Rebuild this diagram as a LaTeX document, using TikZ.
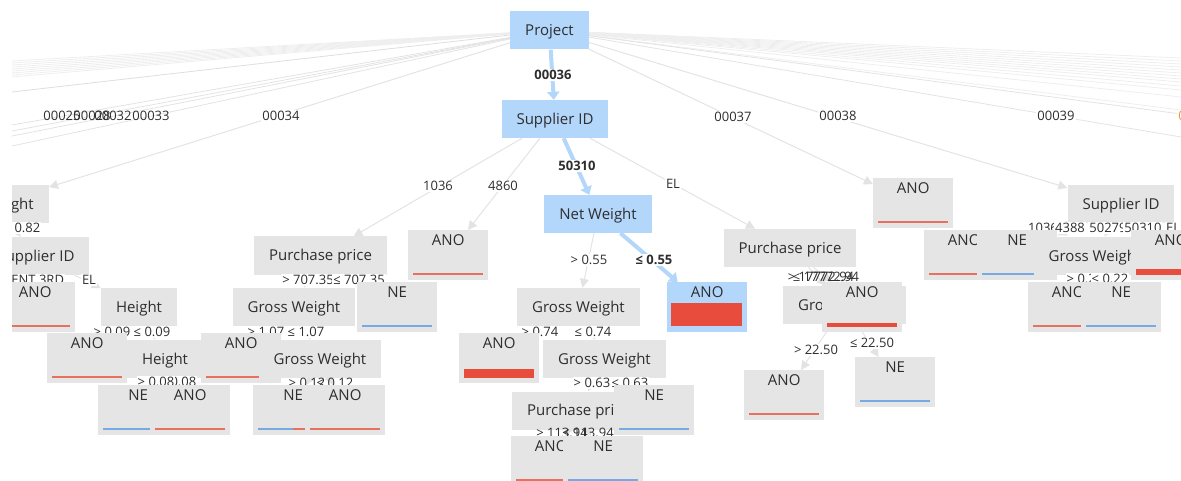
\documentclass[tikz,border=0pt]{standalone}
\usepackage{fontspec}
\setmainfont{Open Sans}
\usetikzlibrary{arrows.meta,calc}

\definecolor{boxgrey}{HTML}{E5E5E5}
\definecolor{hlblue}{HTML}{B3D6FB}
\definecolor{ink}{HTML}{2E2E2E}
\definecolor{barred}{HTML}{E74C3C}
\definecolor{thinred}{HTML}{E8705F}
\definecolor{thinblue}{HTML}{78A9E3}
\definecolor{edgegrey}{HTML}{E3E3E3}
\definecolor{fangrey}{HTML}{EEEEEE}
\definecolor{fandark}{HTML}{DEDEDE}
\definecolor{orangelbl}{HTML}{E39A3B}

\newcommand\tnodefont{\fontsize{15}{18}\selectfont}
\newcommand\tlabelfont{\fontsize{13}{15}\selectfont}

% bar along the bottom of a leaf box: node, colour, thickness
\newcommand\leafbar[3]{\fill[#2] ($(#1.south west)+(5,-5)$) rectangle ($(#1.south east)+(-5,-5-#3)$);}

\pgfdeclarelayer{links}
\pgfsetlayers{links,main}

\tikzset{
  inner/.style={rectangle, fill=boxgrey, inner xsep=15pt, inner ysep=0pt,
    text height=24.35pt, text depth=13.65pt, text=ink, font=\tnodefont},
  hl/.style={fill=hlblue},
  leaf/.style={rectangle, fill=boxgrey, anchor=north west, minimum width=80pt,
    inner sep=0pt, text height=15.4pt, text depth=34.6pt, text=ink, font=\tnodefont},
  toplbl/.style={font=\tlabelfont, text=ink, inner sep=1pt},
  lbl/.style={toplbl, fill=white},
  edge/.style={draw=edgegrey, line width=1pt, -{Triangle[length=9pt,width=9pt]}},
  hledge/.style={draw=hlblue, line width=4pt, -{Triangle[length=8pt,width=12pt]}},
  fan/.style={draw=fangrey, line width=0.8pt, shorten >=-30pt},
}

\begin{document}
\begin{tikzpicture}[x=1pt,y=-1pt]
\useasboundingbox (0,0) rectangle (1181,481);

\begin{scope}
\clip (12,0) rectangle (1181,481);

% ---- depth 0
\node[inner,hl] (prj) at (549.5,30.5) {Project};

% ---- edge labels, root level
\node[toplbl] at (62,116) {00025};
\node[toplbl] at (92,116) {00028};
\node[toplbl] at (113,116) {00032};
\node[toplbl] at (151,116) {00033};
\node[lbl] at (281,116) {00034};
\node[lbl, font=\tlabelfont\bfseries] at (553,75) {00036};
\node[lbl] at (733,117) {00037};
\node[lbl] at (838,116) {00038};
\node[lbl] at (1056,116) {00039};
\node[lbl, text=orangelbl] at (1197,116) {00040};

% ---- depth 1
\node[inner] (ght) at (-5,204) {Net Weight};
\node[inner,hl] (sup1) at (555,119) {Supplier ID};
\node[leaf] (L1) at (873,178) {ANO}; \leafbar{L1}{thinred}{2}
\node[inner] (sup3) at (1121,204) {Supplier ID};

% ---- edge labels, level 1
\node[lbl] at (22,228) {≤ 0.82};
\node[lbl] at (438,186) {1036};
\node[lbl] at (503,186) {4860};
\node[lbl, font=\tlabelfont\bfseries] at (577,166) {50310};
\node[lbl] at (673,184) {EL};
\node[lbl] at (1043,228) {1036};
\node[lbl] at (1070,228) {4388};
\node[lbl] at (1108,228) {50279};
\node[lbl] at (1143,228) {50310};
\node[lbl] at (1173,228) {EL};

% ---- depth 2
\node[inner] (sup2) at (36,256) {Supplier ID};
\node[inner] (pp1) at (320.5,255.5) {Purchase price};
\node[leaf] (L2) at (408,230) {ANO}; \leafbar{L2}{thinred}{2}
\node[inner,hl] (net) at (598,214) {Net Weight};
\node[inner] (pp3) at (790,248) {Purchase price};
\node[leaf] (L19) at (924,230) {ANO}; \leafbar{L19}{thinred}{2}
\node[leaf] (L20) at (977,230) {NE}; \leafbar{L20}{thinblue}{2}
\node[inner] (gw6) at (1095,256) {Gross Weight};
\node[leaf] (L21) at (1131,230) {ANO}; \leafbar{L21}{barred}{6}

% ---- edge labels, level 2
\node[lbl] at (29,280) {AGENT 3RD};
\node[lbl] at (89,280) {EL};
\node[lbl] at (308,280) {> 707.35};
\node[lbl] at (359,280) {≤ 707.35};
\node[lbl] at (589,260) {> 0.55};
\node[lbl, font=\tlabelfont\bfseries] at (654,260) {≤ 0.55};
\node[toplbl] at (821,277) {> 17772.94};
\node[toplbl] at (826,277) {≤ 17772.94};
\node[lbl] at (1085,279) {> 0.22};
\node[lbl] at (1110,279) {≤ 0.22};

% ---- depth 3
\node[leaf] (L5) at (-5,282) {ANO}; \leafbar{L5}{thinred}{2}
\node[inner] (h1) at (139,307) {Height};
\node[inner] (gw1) at (294,307) {Gross Weight};
\node[leaf] (L4) at (357,282) {NE}; \leafbar{L4}{thinblue}{2}
\node[inner] (gw3) at (578.5,307) {Gross Weight};
\node[leaf, fill=hlblue] (L3) at (667,282) {ANO};
\fill[barred] ($(L3.south west)+(4,-6)$) rectangle ($(L3.south east)+(-5,-29)$);
\node[inner] (gw5) at (844.5,305) {Gross Weight};
\node[leaf] (L6) at (822,282) {ANO}; \leafbar{L6}{barred}{4}
\node[leaf] (L22) at (1028,282) {ANO}; \leafbar{L22}{thinred}{2}
\node[leaf] (L23) at (1081,282) {NE}; \leafbar{L23}{thinblue}{2}

% ---- edge labels, level 3
\node[lbl] at (112,332) {> 0.09};
\node[lbl] at (152,332) {≤ 0.09};
\node[lbl] at (266,332) {> 1.07};
\node[lbl] at (306,332) {≤ 1.07};
\node[lbl] at (540,332) {> 0.74};
\node[lbl] at (593,332) {≤ 0.74};
\node[lbl] at (816,350) {> 22.50};
\node[lbl] at (872,343) {≤ 22.50};

% ---- depth 4
\node[leaf] (L7) at (47,333) {ANO}; \leafbar{L7}{thinred}{2}
\node[inner] (h2) at (165,359) {Height};
\node[leaf] (L8) at (201,333) {ANO}; \leafbar{L8}{thinred}{2}
\node[inner] (gw2) at (320,359) {Gross Weight};
\node[leaf] (L9) at (459,333) {ANO}; \leafbar{L9}{barred}{9}
\node[inner] (gw4) at (604.5,359) {Gross Weight};
\node[leaf] (L17) at (744,370) {ANO}; \leafbar{L17}{thinred}{2}
\node[leaf] (L18) at (855,357) {NE}; \leafbar{L18}{thinblue}{2}

% ---- edge labels, level 4
\node[lbl] at (178,382) {≤ 0.08};
\node[lbl] at (156,382) {> 0.08};
\node[toplbl] at (307,383) {> 0.12};
\node[toplbl] at (335,383) {≤ 0.12};
\node[lbl] at (592,383) {> 0.63};
\node[lbl] at (630,383) {≤ 0.63};

% ---- depth 5
\node[leaf] (L10) at (98,385) {NE}; \leafbar{L10}{thinblue}{2}
\node[leaf] (L11) at (150,385) {ANO}; \leafbar{L11}{thinred}{2}
\node[leaf] (L12) at (253,385) {NE};
\fill[thinblue] ($(L12.south west)+(5,-5)$) rectangle ($(L12.south west)+(40,-7)$);
\fill[thinred] ($(L12.south west)+(40,-5)$) rectangle ($(L12.south east)+(-5,-7)$);
\node[leaf] (L13) at (305,385) {ANO}; \leafbar{L13}{thinred}{2}
\node[inner] (pp2) at (578.5,410.5) {Purchase price};
\node[leaf] (L14) at (614,385) {NE}; \leafbar{L14}{thinblue}{2}

% ---- edge labels, level 5
\node[toplbl] at (562,433) {> 113.94};
\node[toplbl] at (588,433) {≤ 113.94};

% ---- depth 6
\node[leaf] (L15) at (511,436) {ANO}; \leafbar{L15}{thinred}{2}
\node[leaf] (L16) at (563,436) {NE}; \leafbar{L16}{thinblue}{2}
\end{scope}

% ---- connectors, underneath all boxes
\begin{pgfonlayer}{links}
\begin{scope}
\clip (12,0) rectangle (1181,481);
% root links to children beyond the frame
\foreach \yy in {61,63,65,67,69,71,73,75,77} {
  \coordinate (fl\yy) at (12,\yy);
  \draw[fan] (prj) -- (fl\yy);
}
\coordinate (fl92) at (12,92);
\draw[fan, draw=fandark] (prj) -- (fl92);
\foreach \yy in {125,131,136,146} {
  \coordinate (fm\yy) at (12,\yy);
  \draw[fan, draw=edgegrey] (prj) -- (fm\yy);
}
\foreach \yy in {58,61,64,67,70,73,76,79,82,86,90,97,110} {
  \coordinate (fr\yy) at (1181,\yy);
  \draw[fan] (prj) -- (fr\yy);
}
\coordinate (fr137) at (1181,137);
\coordinate (fr114) at (1181,114);
\draw[fan, draw=edgegrey] (prj) -- (fr137);
\draw[fan, draw=edgegrey] (prj) -- (fr114);

% visible tree links
\draw[edge] (prj) -- (ght);
\draw[edge] (prj) -- (L1);
\draw[edge] (prj) -- (sup3);
\draw[edge] (sup1) -- (pp1);
\draw[edge] (sup1) -- (L2);
\draw[edge] (sup1) -- (pp3);
\draw[edge] (net) -- (gw3);
\draw[edge] (ght) -- (sup2);
\draw[edge] (sup2) -- (L5);
\draw[edge] (sup2) -- (h1);
\draw[edge] (h1) -- (L7);
\draw[edge] (h1) -- (h2);
\draw[edge] (h2) -- (L10);
\draw[edge] (h2) -- (L11);
\draw[edge] (pp1) -- (gw1);
\draw[edge] (pp1) -- (L4);
\draw[edge] (gw1) -- (L8);
\draw[edge] (gw1) -- (gw2);
\draw[edge] (gw2) -- (L12);
\draw[edge] (gw2) -- (L13);
\draw[edge] (gw3) -- (L9);
\draw[edge] (gw3) -- (gw4);
\draw[edge] (gw4) -- (pp2);
\draw[edge] (gw4) -- (L14);
\draw[edge] (pp2) -- (L15);
\draw[edge] (pp2) -- (L16);
\draw[edge] (pp3) -- (gw5);
\draw[edge] (pp3) -- (L6);
\draw[edge] (gw5) -- (L17);
\draw[edge] (gw5) -- (L18);
\draw[edge] (sup3) -- (L19);
\draw[edge] (sup3) -- (L20);
\draw[edge] (sup3) -- (gw6);
\draw[edge] (sup3) -- (L21);
\draw[edge] (gw6) -- (L22);
\draw[edge] (gw6) -- (L23);
% highlighted decision path
\draw[hledge] (prj) -- (sup1);
\draw[hledge] (sup1) -- (net);
\draw[hledge] (net) -- (L3);
\end{scope}
\end{pgfonlayer}
\end{tikzpicture}
\end{document}
